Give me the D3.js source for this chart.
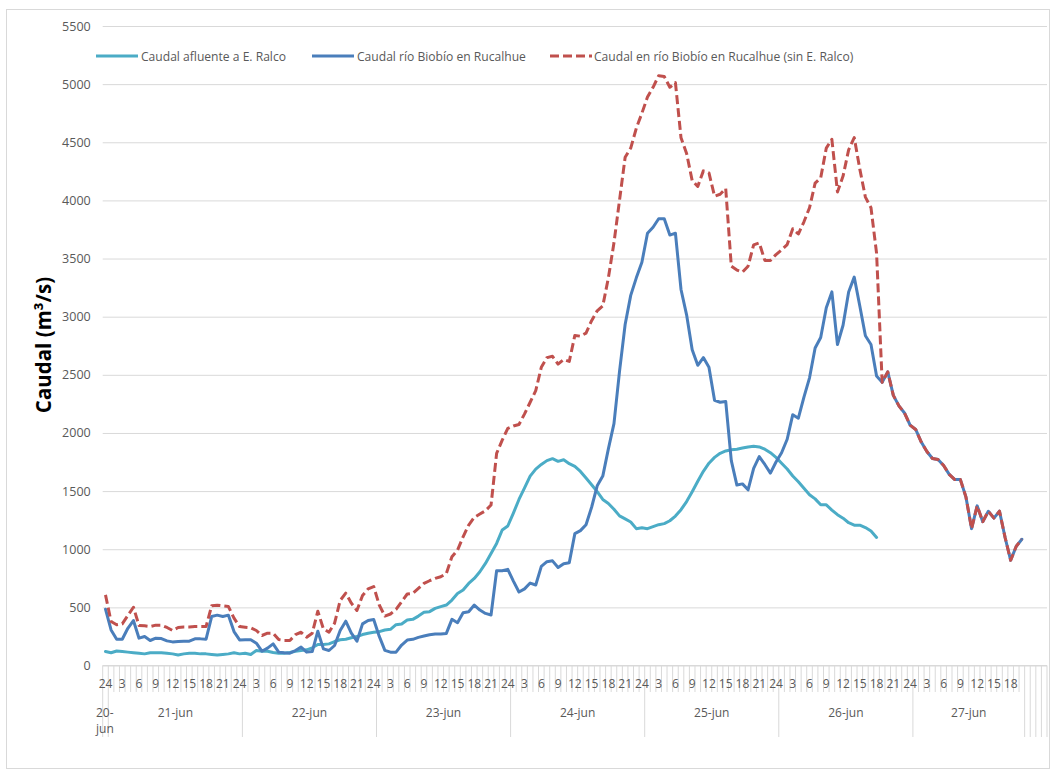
<!DOCTYPE html>
<html><head><meta charset="utf-8">
<script src="https://cdn.jsdelivr.net/npm/d3@7"></script>
<style>
html,body{margin:0;padding:0;background:#fff;}
svg text{font-family:"Open Sans",sans-serif;}
</style></head>
<body><svg id="chart" width="1056" height="774"></svg>
<script>
// ---------- data ----------
const days = ["20-jun","21-jun","22-jun","23-jun","24-jun","25-jun","26-jun","27-jun"];
const dayHours = [1,24,24,24,24,24,24,20]; // labelled hours per day group
const trailingBlank = 4;                   // empty categories at the end
const hourTickStep = 3;
const yTicks = [0,500,1000,1500,2000,2500,3000,3500,4000,4500,5000,5500];
const seriesNames = ["Caudal afluente a E. Ralco","Caudal río Biobío en Rucalhue","Caudal en río Biobío en Rucalhue (sin E. Ralco)"];

// hourly values, first point = 20-jun 24h
const ralco = [
120,110,125,120,115,110,105,100,110,110,110,105,100,90,100,105,105,100,100,95,90,95,100,110,100,
106,95,129,123,123,112,106,106,112,123,129,135,152,180,180,186,206,221,226,238,249,266,278,286,
291,305,311,351,357,391,397,425,457,463,491,506,520,563,620,649,706,749,806,878,964,1050,1165,1200,
1311,1428,1528,1629,1689,1729,1762,1779,1756,1769,1736,1712,1669,1612,1555,1495,1428,1394,1344,1287,1261,1234,1177,1184,
1177,1194,1211,1220,1245,1285,1340,1410,1495,1585,1670,1740,1790,1825,1845,1855,1860,1870,1880,1885,1880,1860,1830,1790,
1740,1690,1630,1580,1524,1469,1433,1382,1382,1337,1297,1267,1228,1207,1207,1186,1156,1101
];
const rucalhue = [
484,306,226,226,320,387,235,249,215,235,232,212,203,206,209,209,229,229,226,421,433,421,433,292,220,
221,221,192,123,149,186,115,109,106,129,158,115,120,295,143,129,172,301,381,278,209,358,387,395,
250,130,115,115,176,219,225,242,253,265,271,271,276,397,368,454,463,520,477,448,434,815,815,827,
726,632,659,709,692,853,893,900,843,876,883,1134,1160,1211,1361,1545,1629,1863,2080,2531,2933,3183,3334,3468,
3718,3769,3842,3842,3702,3718,3234,3016,2715,2582,2648,2565,2281,2264,2271,1762,1552,1562,1511,1695,1796,1729,1655,1750,
1830,1946,2157,2127,2308,2474,2730,2821,3077,3213,2761,2926,3213,3340,3092,2836,2761,2489,2435,2525,2323,2233,2172,2067,
2030,1922,1840,1780,1771,1720,1644,1599,1599,1448,1177,1373,1237,1327,1267,1327,1101,905,1026,1086
];
const sinRalco = [
607,378,350,358,430,501,344,341,335,347,347,327,301,327,332,332,335,335,335,513,519,513,507,407,335,
329,324,301,258,278,278,223,215,215,266,286,243,278,467,315,286,364,559,622,536,473,602,659,679,
520,425,443,483,549,615,620,663,706,729,749,763,792,935,992,1107,1208,1274,1303,1331,1380,1824,1938,2039,
2060,2073,2164,2264,2364,2565,2648,2659,2592,2632,2615,2839,2832,2859,2966,3050,3093,3334,3635,4003,4371,4450,4621,4750,
4889,4973,5073,5066,4973,5013,4538,4404,4170,4120,4254,4237,4036,4053,4103,3434,3401,3384,3434,3618,3635,3484,3484,3534,
3575,3620,3756,3711,3816,3937,4148,4194,4450,4525,4073,4209,4435,4541,4269,4028,3937,3545,2435,2525,2323,2233,2172,2067,
2030,1922,1840,1780,1771,1720,1644,1599,1599,1448,1177,1373,1237,1327,1267,1327,1101,905,1026,1086
];

(function(){
// ---------- categories ----------
const cats = [];
days.forEach((d,di)=>{
  for(let k=0;k<dayHours[di];k++){
    const h = di===0 ? 24 : k+1;
    cats.push({day:d, hour:h, label: (h%hourTickStep===0) ? String(h) : ""});
  }
});
for(let k=0;k<trailingBlank;k++) cats.push({day:null, hour:null, label:""});

// ---------- layout ----------
const svg = d3.select("#chart");
const pL = 102.7, pR = 1047, pT = 26, pB = 665.5;
const colors = ["#4BACC6","#4A7EBB","#C0504D"];

svg.append("rect").attr("x",6.5).attr("y",9.5).attr("width",1043).attr("height",759)
  .attr("fill","#fff").attr("stroke","#d9d9d9");

const x = d3.scaleBand().domain(d3.range(cats.length)).range([pL,pR]).padding(0);
const bw = x.bandwidth();
const cx = i => x(i)+bw/2;
const y = d3.scaleLinear().domain([0,5500]).range([pB,pT]);

// gridlines + y labels
const yAxis = d3.axisLeft(y).tickValues(yTicks).tickSize(-(pR-pL)).tickPadding(12).tickFormat(d3.format("d"));
const gy = svg.append("g").attr("transform",`translate(${pL},0)`).call(yAxis);
gy.select(".domain").remove();
gy.selectAll(".tick line").attr("stroke","#d9d9d9").attr("stroke-width",1);
gy.selectAll(".tick text").attr("fill","#595959").style("font-size","12.5px");

// x axis: category separators + hour labels
const band1 = 692, band2 = 737;
svg.append("g").selectAll("line").data(d3.range(cats.length+1)).join("line")
  .attr("x1",b=>pL+b*bw).attr("x2",b=>pL+b*bw)
  .attr("y1",pB).attr("y2",band1)
  .attr("stroke","#d9d9d9").attr("stroke-width",1);
const xAxis = d3.axisBottom(x).tickSize(0).tickPadding(0).tickFormat(i=>cats[i].label);
const gxa = svg.append("g").attr("transform",`translate(0,${pB})`).call(xAxis);
gxa.select(".domain").remove();
gxa.selectAll(".tick text").attr("fill","#595959").style("font-size","12px").attr("dy","0").attr("y",22);
svg.append("line").attr("x1",pL).attr("x2",pR).attr("y1",pB).attr("y2",pB)
  .attr("stroke","#d9d9d9").attr("stroke-width",1);

// day groups
const groups = [];
let start = 0;
days.forEach((d,di)=>{ groups.push({day:d,s:start,e:start+dayHours[di]}); start += dayHours[di]; });
for(let k=0;k<trailingBlank;k++){ groups.push({day:"",s:start,e:start+1}); start++; }
const bounds = new Set();
groups.forEach(g=>{bounds.add(g.s); bounds.add(g.e);});
svg.append("g").selectAll("line").data([...bounds]).join("line")
  .attr("x1",b=>pL+b*bw).attr("x2",b=>pL+b*bw)
  .attr("y1",band1).attr("y2",band2)
  .attr("stroke","#d9d9d9").attr("stroke-width",1);
groups.filter(g=>g.day && g.e-g.s>1).forEach(g=>{
  svg.append("text").attr("x",(pL+g.s*bw+pL+g.e*bw)/2).attr("y",717)
    .attr("text-anchor","middle").attr("fill","#595959").style("font-size","12px").text(g.day);
});
{ // narrow first group, wrapped
  const g = groups[0];
  const t = svg.append("text").attr("y",717).attr("fill","#595959").style("font-size","12px");
  const parts = g.day.split("-");
  t.append("tspan").attr("x",96).attr("dy",0).text(parts[0]+"-");
  t.append("tspan").attr("x",96).attr("dy",16).text(parts[1]);
}

// y title
svg.append("text").attr("transform","translate(51,345) rotate(-90)").attr("text-anchor","middle")
  .style("font-size","20.5px").style("font-weight","bold").attr("fill","#000").text("Caudal (m³/s)");

// lines
const line = d3.line().x((d,i)=>cx(i)).y(d=>y(d));
const series = [ralco, rucalhue, sinRalco];
series.forEach((s,k)=>{
  svg.append("path").datum(s).attr("d",line).attr("fill","none")
    .attr("stroke",colors[k]).attr("stroke-width",3)
    .attr("stroke-linejoin","round").attr("stroke-linecap", k===2?"butt":"round")
    .attr("stroke-dasharray", k===2 ? "9,4" : null);
});

// legend
const legendPos = [{lx:96,tx:141},{lx:312,tx:357},{lx:550,tx:594}];
const ly = 56;
seriesNames.forEach((n,k)=>{
  const p = legendPos[k];
  svg.append("line").attr("x1",p.lx).attr("x2",p.lx+42).attr("y1",ly).attr("y2",ly)
    .attr("stroke",colors[k]).attr("stroke-width",3)
    .attr("stroke-dasharray", k===2 ? "9,4" : null);
  svg.append("text").attr("x",p.tx).attr("y",ly+4.5).attr("fill","#595959")
    .style("font-size","12.1px").text(n);
});
})();
</script></body></html>
